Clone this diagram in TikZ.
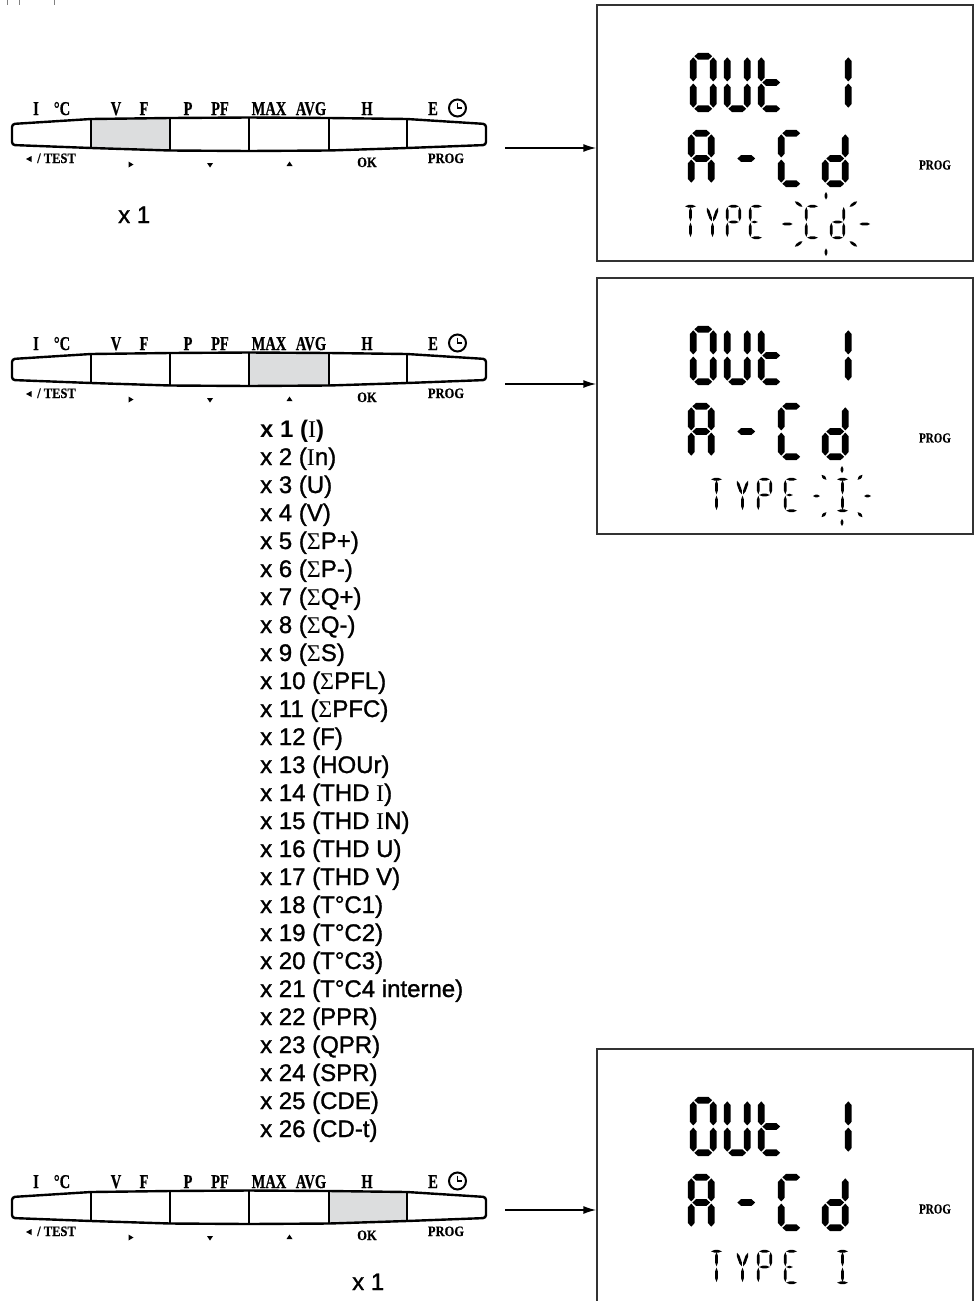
\documentclass[tikz,border=0pt]{standalone}
\usepackage{fontspec}
\usepackage{graphicx}
\setmainfont{Liberation Sans}
\newfontfamily\keyfont{Liberation Serif}[FakeBold=0.6]
\newfontfamily\serI{Liberation Serif}
\newfontfamily\listfont{Liberation Sans}[FakeBold=1.2]
\usetikzlibrary{calc,arrows.meta,positioning}
\definecolor{litgray}{RGB}{220,221,222}
\newcommand{\tall}[2][1.35]{\scalebox{1}[#1]{#2}}

\tikzset{
  screen/.style={draw=black!80, line width=1.4pt, minimum width=376pt, minimum height=256pt, inner sep=0pt},
  progtag/.style={font=\keyfont\bfseries\fontsize{11}{11}\selectfont, inner sep=0pt},
  keyline/.style={line width=2.4pt, line join=round},
  keytop/.style={anchor=base, inner sep=0pt, font=\keyfont\bfseries\fontsize{14.5}{14.5}\selectfont},
  keysub/.style={anchor=base, inner sep=0pt, font=\keyfont\bfseries\fontsize{12.5}{12.5}\selectfont},
  entry/.style={anchor=base west, inner sep=0pt, font=\listfont\fontsize{24}{28}\selectfont},
  flow/.style={line width=1.5pt, -{Latex[length=13pt,width=8pt]}}
}

% one lcd segment: tip length, half width, from, to
\newcommand{\seg}[4]{%
  \fill (#3) -- ($(#3)!#1!(#4)!#2!90:(#4)$) -- ($(#4)!#1!(#3)!#2!-90:(#3)$) -- (#4)
    -- ($(#4)!#1!(#3)!#2!90:(#3)$) -- ($(#3)!#1!(#4)!#2!-90:(#4)$) -- cycle;}
% one lcd cell: x0, y0, W, H, gap, tip, half width, segments
\newcommand{\lcd}[8]{%
  \begin{scope}[shift={(#1,#2)}]
    \coordinate (a1) at (#5,0);           \coordinate (a2) at ({#3-#5},0);
    \coordinate (b1) at (#3,#5);          \coordinate (b2) at (#3,{#4/2-#5});
    \coordinate (c1) at (#3,{#4/2+#5});   \coordinate (c2) at (#3,{#4-#5});
    \coordinate (d1) at (#5,#4);          \coordinate (d2) at ({#3-#5},#4);
    \coordinate (e1) at (0,{#4/2+#5});    \coordinate (e2) at (0,{#4-#5});
    \coordinate (f1) at (0,#5);           \coordinate (f2) at (0,{#4/2-#5});
    \coordinate (m1) at (#5,{#4/2});      \coordinate (m2) at ({#3-#5},{#4/2});
    \coordinate (ml1) at (#5,{#4/2});     \coordinate (ml2) at ({0.62*#3},{#4/2});
    \coordinate (vu1) at ({#3/2},#5);     \coordinate (vu2) at ({#3/2},{#4/2-#5});
    \coordinate (vd1) at ({#3/2},{#4/2+#5}); \coordinate (vd2) at ({#3/2},{#4-#5});
    \coordinate (ul1) at ({#5},{2*#5});   \coordinate (ul2) at ({#3/2-#5},{#4/2-#5});
    \coordinate (ur1) at ({#3-#5},{2*#5}); \coordinate (ur2) at ({#3/2+#5},{#4/2-#5});
    \foreach \s in {#8} {\seg{#6}{#7}{\s1}{\s2}}
  \end{scope}}
\newcommand{\bigch}[4]{\lcd{#1}{#2}{20}{#3}{1.2}{3.4pt}{3.3pt}{#4}}
\newcommand{\smallch}[3]{\lcd{#1+1.3}{#2+1.3}{12.4}{31.4}{0.7}{3.6pt}{1.35pt}{#3}}
% blinking marks round a field: cx, cy, rx, ry
\newcommand{\ring}[4]{%
  \foreach \ang in {0,45,...,315}
    \seg{2.6pt}{1.35pt}{{#1+0.76*#3*cos(\ang)},{#2+0.76*#4*sin(\ang)}}{{#1+#3*cos(\ang)},{#2+#4*sin(\ang)}};}

% display: name, shift
\newcommand{\screen}[2]{%
  \begin{scope}[shift={(0,#2)}]
    \node[screen] (#1) at (785,133) {};
    \node[progtag] (#1prog) at (935,165) {\tall[1.25]{PROG}};
    \bigch{693.25}{56.25}{52.5}{a,b,c,d,e,f}   % O
    \bigch{727.25}{56.25}{52.5}{b,c,d,e,f}     % U
    \bigch{761.25}{56.25}{52.5}{d,e,f,m}       % t
    \bigch{828.25}{56.25}{52.5}{b,c}           % 1
    \bigch{691.25}{133.25}{50.5}{a,b,c,e,f,m}  % A
    \bigch{736.25}{133.25}{50.5}{m}            % -
    \bigch{781.25}{133.25}{50.5}{a,d,e,f}      % C
    \bigch{825.25}{133.25}{50.5}{b,c,d,e,m}    % d
  \end{scope}}

% keypad: name, shift, lit button from, to
\newcommand{\keypad}[4]{%
  \begin{scope}[shift={(0,#2)}]
    \coordinate (#1t0) at (12,124);    \coordinate (#1b0) at (12,145);
    \coordinate (#1t1) at (91,119);    \coordinate (#1b1) at (91,148);
    \coordinate (#1t2) at (170,118);   \coordinate (#1b2) at (170,150.5);
    \coordinate (#1t3) at (249,117.5); \coordinate (#1b3) at (249,151);
    \coordinate (#1t4) at (329,118);   \coordinate (#1b4) at (329,150.5);
    \coordinate (#1t5) at (407,119);   \coordinate (#1b5) at (407,148);
    \coordinate (#1t6) at (486,124);   \coordinate (#1b6) at (486,145);
    \fill[litgray] (#1t#3) -- (#1t#4) -- (#1b#4) -- (#1b#3) -- cycle;
    \draw[keyline, rounded corners=3pt] (#1t3) -- (#1t2) -- (#1t1) -- (#1t0) -- (#1b0) -- (#1b1) -- (#1b2)
      -- (#1b3) -- (#1b4) -- (#1b5) -- (#1b6) -- (#1t6) -- (#1t5) -- (#1t4) -- cycle;
    \foreach \k in {1,...,5} \draw[keyline] (#1t\k) -- (#1b\k);
    \node[keytop] (#1i)   at (36,115)  {\tall{I}};
    \node[keytop] (#1deg) at (62,115)  {\tall{°C}};
    \node[keytop] (#1v)   at (116,115) {\tall{V}};
    \node[keytop] (#1f)   at (144,115) {\tall{F}};
    \node[keytop] (#1p)   at (188,115) {\tall{P}};
    \node[keytop] (#1pf)  at (220,115) {\tall{PF}};
    \node[keytop] (#1max) at (269,115) {\tall{MAX}};
    \node[keytop] (#1avg) at (311,115) {\tall{AVG}};
    \node[keytop] (#1h)   at (367,115) {\tall{H}};
    \node[keytop] (#1e)   at (433,115) {\tall{E}};
    \node[draw, circle, line width=2pt, minimum size=17pt, inner sep=0pt] (#1clk) at (457.5,108) {};
    \draw[line width=1.8pt] ([yshift=5.5pt]#1clk.center) -- (#1clk.center) -- ([xshift=4.5pt]#1clk.center);
    \node[keysub] (#1test) at (56.5,163) {\tall[1.15]{/ TEST}};
    \node[keysub] (#1ok)   at (367,167)  {\tall[1.15]{OK}};
    \node[keysub] (#1prg)  at (446,163)  {\tall[1.15]{PROG}};
    \fill (26,159) -- (31.5,156) -- (31.5,162) -- cycle;          % left
    \fill (128.5,161.5) -- (133.5,164.5) -- (128.5,167.5) -- cycle; % right
    \fill (207,163) -- (213,163) -- (210,167.5) -- cycle;          % down
    \fill (286.5,166) -- (292.5,166) -- (289.5,161.5) -- cycle;    % up
  \end{scope}}

\begin{document}
\begin{tikzpicture}[x=1pt,y=-1pt]
\useasboundingbox (0,0) rectangle (976,1301);
\draw[black!50, line width=0.8pt] (7,0) -- (7,5) (19,0) -- (19,5) (54,0) -- (54,5);

% step 1
\keypad{kpa}{0}{1}{2}
\node[entry] (cnta) at (118,223) {x 1};
\screen{dispa}{0}
\smallch{683}{205}{a,vu,vd}        % T
\smallch{705}{205}{ul,ur,vd}       % Y
\smallch{726}{205}{a,b,f,e,m}      % P
\smallch{749}{205}{a,f,e,d,ml}     % E
\smallch{805}{205}{a,f,e,d}        % C
\smallch{830}{205}{b,c,d,e,m}      % d
\ring{826}{224}{44}{32}
\coordinate (srca) at (505,148);
\draw[flow] (srca) -- (srca -| dispa.west);

% step 2
\keypad{kpb}{235}{3}{4}
\screen{dispb}{273}
\smallch{709}{478}{a,vu,vd}
\smallch{735}{478}{ul,ur,vd}
\smallch{757}{478}{a,b,f,e,m}
\smallch{784}{478}{a,f,e,d,ml}
\smallch{835}{478}{a,vu,vd,d}      % I
\ring{842}{496}{29}{30}
\coordinate (srcb) at (505,384);
\draw[flow] (srcb) -- (srcb -| dispb.west);

\node[entry, font=\fontsize{24}{28}\selectfont\bfseries] (sel1) at (260,437) {x 1 ({\serI\mdseries I})};
\foreach \lbl [count=\k from 2] in {{({\serI I}n)},{(U)},{(V)},{({\serI Σ}P+)},{({\serI Σ}P-)},{({\serI Σ}Q+)},
  {({\serI Σ}Q-)},{({\serI Σ}S)},{({\serI Σ}PFL)},{({\serI Σ}PFC)},{(F)},{(HOUr)},{(THD {\serI I})},
  {(THD {\serI I}N)},{(THD U)},{(THD V)},{(T°C1)},{(T°C2)},{(T°C3)},{(T°C4 interne)},{(PPR)},{(QPR)},
  {(SPR)},{(CDE)},{(CD-t)}}
  \node[entry] (sel\k) at (260,{437+28*(\k-1)}) {x \k\ \lbl};

% step 3
\keypad{kpc}{1073}{4}{5}
\node[entry] (cntc) at (352,1290) {x 1};
\screen{dispc}{1044}
\smallch{709}{1250}{a,vu,vd}
\smallch{735}{1250}{ul,ur,vd}
\smallch{757}{1250}{a,b,f,e,m}
\smallch{784}{1250}{a,f,e,d,ml}
\smallch{835}{1250}{a,vu,vd,d}
\coordinate (srcc) at (505,1210);
\draw[flow] (srcc) -- (srcc -| dispc.west);
\end{tikzpicture}
\end{document}
